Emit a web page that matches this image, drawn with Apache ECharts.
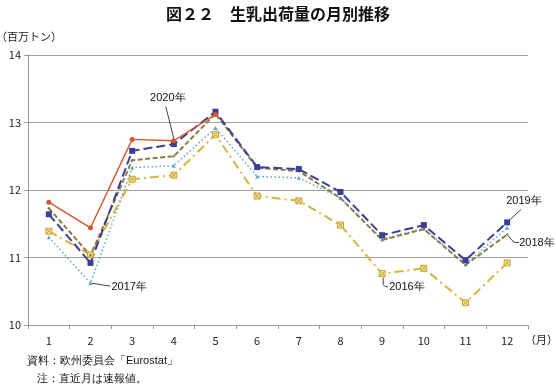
<!DOCTYPE html>
<html><head><meta charset="utf-8">
<script src="https://cdn.jsdelivr.net/npm/echarts@6/dist/echarts.min.js"></script>
<style>html,body{margin:0;padding:0;background:#fff}#c{width:556px;height:387px}</style>
</head><body><div id="c"></div>
<script>
const months = ['1','2','3','4','5','6','7','8','9','10','11','12'];
const y2016 = [11.39, 11.04, 12.16, 12.22, 12.82, 11.91, 11.84, 11.48, 10.76, 10.84, 10.33, 10.92];
const y2017 = [11.30, 10.62, 12.33, 12.36, 12.92, 12.20, 12.18, 11.88, 11.27, 11.43, 10.90, 11.44];
const y2018 = [11.73, 11.03, 12.44, 12.50, 13.13, 12.33, 12.28, 11.88, 11.26, 11.42, 10.89, 11.34];
const y2019 = [11.64, 10.92, 12.58, 12.68, 13.16, 12.34, 12.31, 11.97, 11.33, 11.48, 10.96, 11.52];
const y2020 = [11.82, 11.44, 12.75, 12.73, 13.12];
const yTicks = [10, 11, 12, 13, 14];

const FONT = '"Noto Sans CJK JP", "Noto Sans", sans-serif';
const chart = echarts.init(document.getElementById('c'));
const xMark = 'path://M0 0L10 0L10 10L0 10Z M1 1L9 9M9 1L1 9';

const option = {
  animation: false,
  textStyle: {fontFamily: FONT},
  title: {text: '図２２　生乳出荷量の月別推移', left: 'center', top: 1,
    textStyle: {fontSize: 16, fontWeight: 'bold', color: '#111', fontFamily: FONT}},
  grid: {left: 28, right: 28, top: 55, bottom: 62, outerBoundsMode: 'none', containLabel: false},
  xAxis: {
    type: 'category', data: months, boundaryGap: true,
    name: '（月）', nameLocation: 'end', nameGap: -3,
    nameTextStyle: {fontSize: 11, color: '#222', verticalAlign: 'top', align: 'left', padding: [9, 0, 0, 0]},
    axisLine: {lineStyle: {color: '#999', width: 1}},
    axisTick: {show: true, inside: false, length: 4, lineStyle: {color: '#999'}},
    axisLabel: {fontSize: 11, color: '#222', margin: 10}
  },
  yAxis: {
    type: 'value', min: 10, max: 14, interval: 1,
    name: '（百万トン）', nameLocation: 'end', nameGap: 13,
    nameTextStyle: {fontSize: 11, color: '#222', align: 'left', padding: [0, 0, 0, -32]},
    axisLine: {show: true, lineStyle: {color: '#999', width: 1}},
    axisTick: {show: true, length: 4, lineStyle: {color: '#999'}},
    axisLabel: {fontSize: 11, color: '#222', margin: 7,
      formatter: v => yTicks.includes(v) ? String(v) : ''},
    splitLine: {lineStyle: {color: '#a0a0a0', width: 1}}
  },
  series: [
    {name: '2016年', type: 'line', data: y2016, symbol: xMark, symbolSize: 6,
      lineStyle: {color: '#D8B43C', width: 2, type: [9, 4, 2, 4]},
      itemStyle: {color: '#F3E38E', borderColor: '#C9A432', borderWidth: 1}},
    {name: '2017年', type: 'line', data: y2017, symbol: 'triangle', symbolSize: 4,
      lineStyle: {color: '#5DA7CC', width: 1.5, type: [1.5, 2.5]},
      itemStyle: {color: '#5DA7CC'}},
    {name: '2018年', type: 'line', data: y2018, symbol: 'diamond', symbolSize: 3,
      lineStyle: {color: '#8C7B45', width: 2, type: [5, 2.5]},
      itemStyle: {color: '#8C7B45'}},
    {name: '2019年', type: 'line', data: y2019, symbol: 'rect', symbolSize: 6,
      lineStyle: {color: '#3B3F97', width: 2, type: [9, 4]},
      itemStyle: {color: '#3B3F97'}},
    {name: '2020年', type: 'line', data: y2020, symbol: 'circle', symbolSize: 5,
      lineStyle: {color: '#D4562B', width: 1.4},
      itemStyle: {color: '#D4562B'}}
  ]
};
chart.setOption(option);

function px(i, v) { return chart.convertToPixel({gridIndex: 0}, [i, v]); }
const lineStyle = {stroke: '#111', lineWidth: 0.8, fill: null};
const txt = (x, y, s, align) => ({type: 'text', x: x, y: y,
  style: {text: s, fontSize: 11, fill: '#111', font: '11px ' + FONT, align: align || 'left', verticalAlign: 'middle'}});
const g = [];
let p = px(3, y2020[3]);
g.push({type: 'polyline', shape: {points: [[p[0] - 8, p[1] - 34], [p[0], p[1] - 2]]}, style: lineStyle});
g.push(txt(p[0] - 6, p[1] - 43, '2020年', 'center'));
p = px(11, y2019[11]);
g.push({type: 'polyline', shape: {points: [[p[0] + 1, p[1] - 1], [p[0] + 14, p[1] - 13]]}, style: lineStyle});
g.push(txt(p[0] - 1, p[1] - 21, '2019年'));
p = px(11, y2018[11]);
g.push({type: 'polyline', shape: {points: [[p[0] + 1, p[1] + 1], [p[0] + 5, p[1] + 6], [p[0] + 8, p[1] + 8], [p[0] + 12, p[1] + 8]]}, style: lineStyle});
g.push(txt(p[0] + 12, p[1] + 8, '2018年'));
p = px(1, y2017[1]);
g.push({type: 'polyline', shape: {points: [[p[0] + 1, p[1]], [p[0] + 20, p[1] + 3]]}, style: lineStyle});
g.push(txt(p[0] + 21, p[1] + 3.5, '2017年'));
p = px(8, y2016[8]);
g.push({type: 'polyline', shape: {points: [[p[0] + 1, p[1] + 4], [p[0] + 1, p[1] + 11], [p[0] + 3, p[1] + 13], [p[0] + 6, p[1] + 13]]}, style: lineStyle});
g.push(txt(p[0] + 7, p[1] + 13, '2016年'));
g.push(txt(27, 361, '資料：欧州委員会「Eurostat」'));
g.push(txt(37, 379, '注：直近月は速報値。'));
chart.setOption({graphic: g});
</script></body></html>
